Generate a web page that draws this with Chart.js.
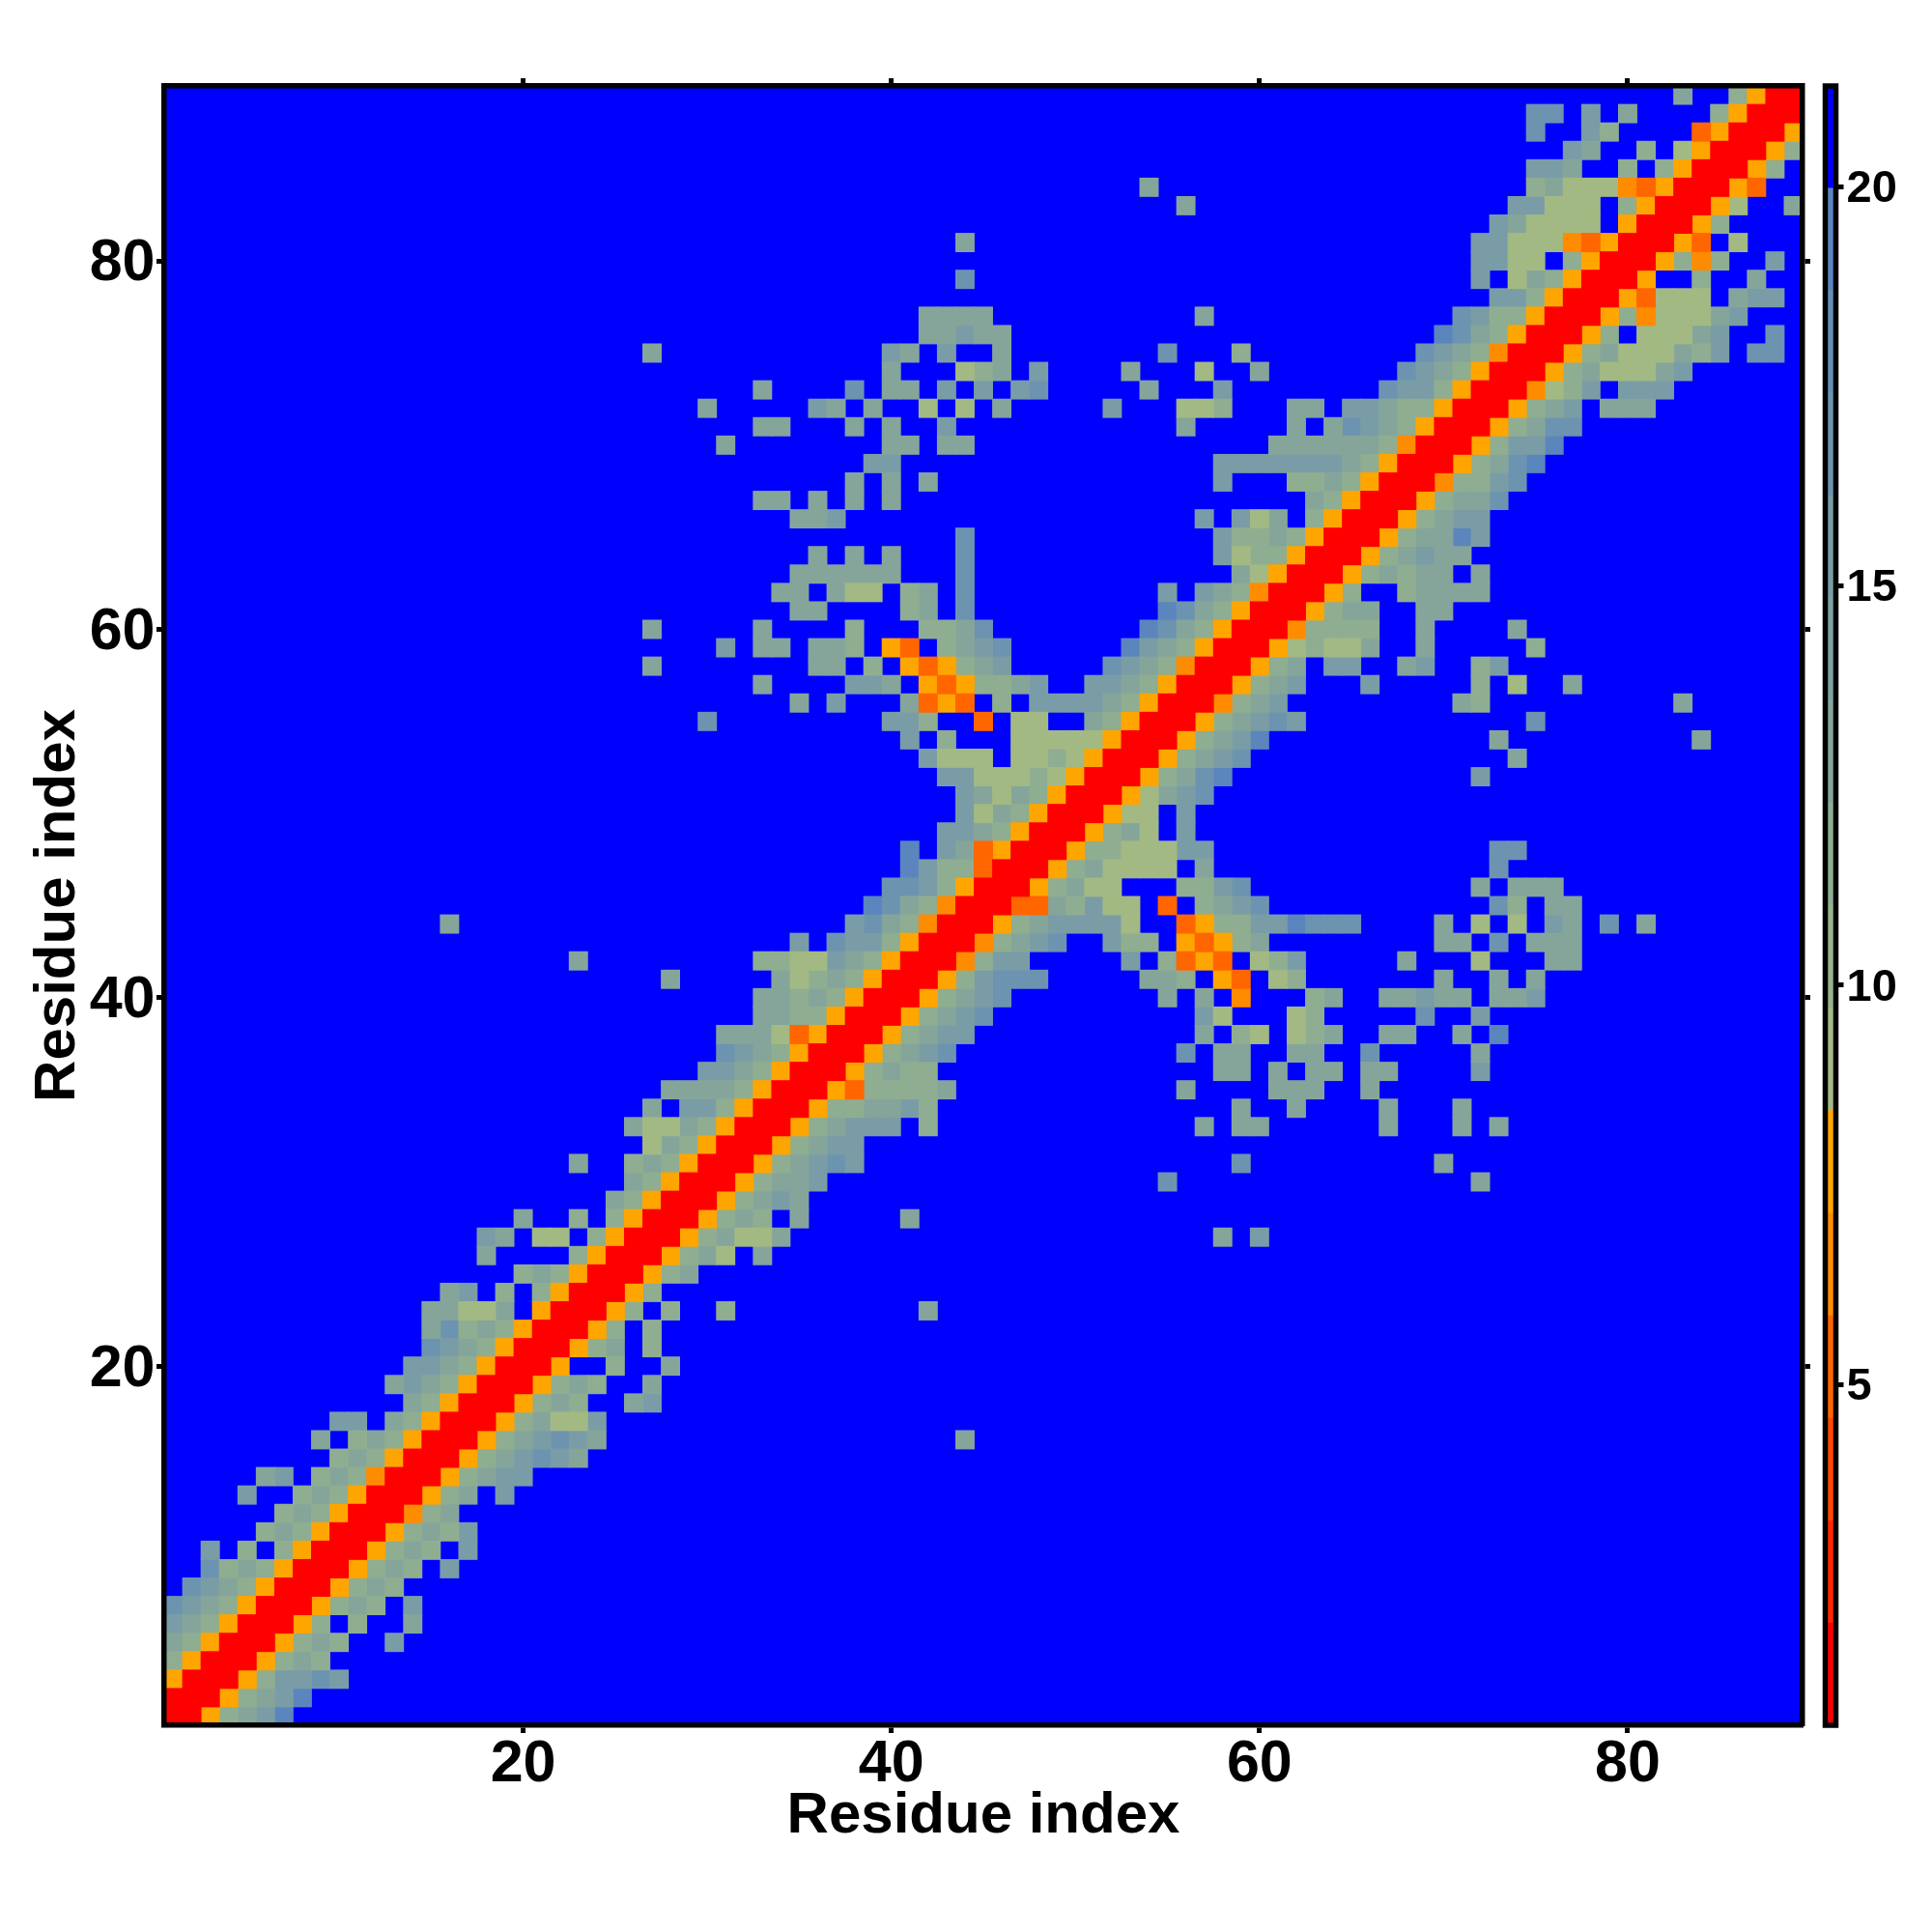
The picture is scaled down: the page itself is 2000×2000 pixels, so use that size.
<!DOCTYPE html>
<html>
<head>
<meta charset="utf-8">
<script src="https://cdn.jsdelivr.net/npm/chart.js@4"></script>
<style>
html,body{margin:0;padding:0;background:#fff;}
#wrap{position:relative;width:2000px;height:2000px;}
canvas{position:absolute;left:0;top:0;}
</style>
</head>
<body>
<div id="wrap"><canvas id="map" width="2000" height="2000"></canvas><canvas id="bar" width="2000" height="2000"></canvas></div>
<script>
const axisTitle = "Residue index";
const residueTicks = [20, 40, 60, 80];
const colorbarTicks = [5, 10, 15, 20];
const residueCount = 89;

// Colour-key levels.
const levelBreaks = [0.73, 2.01, 3.29, 4.58, 5.86, 7.14, 8.43, 9.71, 11.0, 12.28, 13.56, 14.84, 16.13, 17.41, 18.7, 19.98, 21.26];
const levelColors = ["#FF0000", "#FF2800", "#FF4800", "#FF6600", "#FF8C00", "#FFA500", "#A2B983", "#98B38A", "#8FAD91", "#85A59B", "#7FA1A1", "#7A9CA6", "#6C94B0", "#6490B6", "#5B85BD", "#0000FF"];

// Distance read for each letter used in the rows below.
const codeValues = { r: 1.4, e: 5.2, d: 6.5, o: 7.8, a: 9.1, b: 11.6, c: 12.9, f: 15.5, h: 16.8, k: 19.3 };
const noContactValue = 20.6;

// Non-background cells, row by row: "startColumn:letters".
const rowCells = {
89:"83:c 86:borr",
88:"75:hh 78:f 80:c 85:borrr",
87:"75:h 78:fb 84:eorrro",
86:"77:fc 81:b 83:aorrrob",
85:"75:ffc 80:b 82:borrrob",
84:"54:c 75:bcaaadeorrroe",
83:"56:c 74:ffaaa 80:borrroa 89:c",
82:"73:fcaaaa 80:orrrob",
81:"44:c 72:ffaaadeorrroe 86:a",
80:"72:ffaa 77:borrrobdb 88:f",
79:"44:h 72:f 74:acborrro 84:b 87:c",
78:"73:ffborrroeaaa 86:cff",
77:"42:cccc 57:c 71:hfbborrrobdaaacf",
76:"42:ccfcc 70:khcborrrob 81:aaacf 88:h",
75:"27:c 40:fc 43:f 46:c 55:h 59:b 69:hfcbdrrrobcaaacbf 87:hh",
74:"40:c 44:abc 48:f 53:c 57:a 60:c 68:hfcborrrobcaaacf",
73:"33:c 38:h 40:cc 43:f 45:f 47:fh 54:c 58:f 67:hffborrrdabf 80:fff",
72:"30:c 36:fc 39:c 42:a 44:a 46:c 52:f 56:aab 62:cc 65:ffcbborrrobcf 79:ccc",
71:"33:cc 38:c 40:c 43:f 56:c 62:c 64:chfcborrrobchh",
70:"31:c 40:cc 43:cc 61:ccccccbdrrrobffk",
69:"39:ff 58:fffffffcborrrobchk",
68:"38:c 40:c 42:c 58:f 62:bbcborrrdbbfh",
67:"33:cc 36:c 38:c 40:c 63:cborrrobcch",
66:"35:ccf 57:f 59:fac 63:borrrobcff",
65:"44:h 58:fbbcborrrobcckf",
64:"36:c 38:c 40:c 44:h 58:fabborrrobcfcc",
63:"35:cccccc 44:h 59:caorrrobcbcc 72:c",
62:"34:cc 37:caa 41:bc 44:h 55:f 57:fcbdrrrob 68:bcccc",
61:"35:cc 41:bc 44:h 55:khcborrrobcc 69:cc",
60:"27:c 33:c 38:b 42:bbch 54:khcborrrdbbbb 69:c 74:c",
59:"31:f 33:cc 36:ccb 40:oe 43:bcfh 53:kfcborrroabaac 69:c 75:b",
58:"27:c 36:cc 39:b 41:oeobcf 52:hfcbdrrrobc 64:ff 68:cf 72:bf",
57:"33:c 38:ffc 42:oeobbcf 51:ffcborrrobcf 66:f 72:b 74:a 77:c",
56:"35:c 37:f 41:ceoe 46:b 48:ffffcborrrdbcf 71:cb 83:c",
55:"30:h 40:ffb 45:e 47:aa 51:cborrrobcfhf 75:h",
54:"41:f 43:b 47:aaaaaorrrobcfk 73:c 84:c",
53:"42:faaa 47:aabaorrrobcfh 74:c",
52:"43:ffaaabaorrrobchk 72:f",
51:"44:fcacborrroacfh",
50:"44:facborrroaa 56:f",
49:"43:ffcborrrobca 56:f",
48:"41:k 43:fceorrrobbaaaff 73:hh",
47:"41:kfbberrrobcaaaa 57:c 73:h",
46:"40:hhfborrrobcaa 56:bbfh 72:c 74:ccc",
45:"39:khcbdrrreecbfaa 55:e 57:bcfh 73:hb 76:cc",
44:"16:c 38:fhcbdrrrobcffffa 56:eobbffkhhh 70:c 72:a 74:a 76:fc 79:h 81:c",
43:"35:f 37:hffborrrdbcfh 52:fbb 56:oeobc 70:cc 73:h 75:ccc",
42:"23:c 33:bbaafcborrrdbff 53:f 55:beoe 60:abf 68:c 72:a 76:cc",
41:"28:c 34:cabcborrrobfhhh 54:ccb 58:oe 61:ab 70:c 73:c 75:c",
40:"33:ccbcborrrobcfh 55:c 57:c 59:d 63:bc 67:ccfcc 73:ccf",
39:"33:ccbborrrobcfh 57:fa 62:ab 69:h 72:f",
38:"31:cccaeorrrobcff 57:c 59:ba 62:abc 67:cc 71:c 73:k",
37:"31:hfcborrrobcfh 56:h 58:cc 62:cc 66:h 72:c",
36:"30:ffcborrrobcbb 58:cc 61:c 63:cc 66:cc 72:f",
35:"28:ccccborrroebbbbc 56:c 61:ccc 66:c",
34:"27:c 29:ffborrrobbccfb 59:c 62:c 67:c 71:c",
33:"26:caacborrrobcfff 42:b 57:c 59:cc 67:c 71:c 73:c",
32:"27:acborrrobcff",
31:"23:c 26:bcborrrobcfhf 59:h 70:c",
30:"26:cborrrobccf 55:h 72:c",
29:"25:cborrrobcfc",
28:"20:c 23:b 25:borrrobcb 35:c 41:c",
27:"18:fc 21:aa 24:borrrobcaac 58:c 60:f",
26:"18:c 23:borrrobca 33:c",
25:"20:bcborrrobc",
24:"16:cf 19:b 21:borrrob",
23:"15:ccaac 21:orrrob 28:b 31:b 42:c",
22:"15:chbcborrrob 27:b",
21:"15:hfcborrrobc 27:b",
20:"14:ffcborrro 25:b 28:c",
19:"13:cfcborrrobcb 27:c",
18:"14:cborrrobcb 26:cf",
17:"10:ff 13:cborrrobcaaf",
16:"9:c 11:bcborrrobcfhfc 44:c",
15:"10:bcborrrobcfhfc",
14:"6:cf 9:bcbdrrrobcff",
13:"5:f 8:bcborrrobc 19:f",
12:"7:bcborrrdbc",
11:"6:bcborrrobcbf",
10:"3:f 5:b 7:borrrobcb 17:f",
9:"3:hbcborrrobcb 16:f",
8:"2:hfcborrrobcb",
7:"1:hfcborrrobcb 14:f",
6:"1:fcborrrob 11:b 14:c",
5:"1:cborrrobcb 13:f",
4:"1:borrrobcb",
3:"1:orrrobffhf",
2:"1:rrrobcfk",
1:"1:rrobcfk"
};

// ---- expand the table into chart points ----
function colorFor(v){
  for (let i = 0; i < levelColors.length; i++) if (v < levelBreaks[i + 1]) return levelColors[i];
  return levelColors[levelColors.length - 1];
}
const valueAt = {};
Object.keys(rowCells).forEach(row => {
  rowCells[row].split(" ").forEach(run => {
    const [start, letters] = run.split(":");
    [...letters].forEach((ch, k) => { valueAt[row + "," + (Number(start) + k)] = codeValues[ch]; });
  });
});
const points = [];
for (let y = 1; y <= residueCount; y++) {
  for (let x = 1; x <= residueCount; x++) {
    const v = valueAt[y + "," + x];
    points.push({ x, y, v: v === undefined ? noContactValue : v });
  }
}
points.sort((p, q) => q.v - p.v);

const FONT = "'Liberation Sans', Arial, sans-serif";
const INK = "#000000";
const fixTicks = values => axis => { axis.ticks = values.map(v => ({ value: v })); };

function frameAxis(position, size, extra){
  return Object.assign({
    type: "linear",
    position,
    min: 0.5,
    max: residueCount + 0.5,
    afterBuildTicks: fixTicks(residueTicks),
    afterFit: s => { if (s.isHorizontal()) s.height = size; else s.width = size; },
    border: { display: true, color: INK, width: 5.5, z: 1 },
    grid: { display: true, drawOnChartArea: false, drawTicks: true, tickLength: 8, tickWidth: 5, tickColor: INK, z: 1 },
    ticks: { display: false }
  }, extra || {});
}
const labelTicks = (pad, shift) => ({ display: true, padding: pad, labelOffset: shift, autoSkip: false, maxRotation: 0, color: INK, font: { family: FONT, size: 61, weight: "bold" } });
const titleOf = padding => ({ display: true, text: axisTitle, color: INK, padding, font: { family: FONT, size: 60, weight: "bold" } });

const plotBackground = {
  id: "plotBackground",
  beforeDatasetsDraw(chart){
    const a = chart.chartArea, c = chart.ctx;
    c.save(); c.fillStyle = levelColors[levelColors.length - 1];
    c.fillRect(a.left, a.top, a.right - a.left, a.bottom - a.top);
    c.restore();
  }
};

new Chart(document.getElementById("map"), {
  type: "scatter",
  data: { datasets: [{
    label: "Distance",
    data: points,
    pointStyle: "rect",
    pointRadius: 14.1,
    pointHoverRadius: 14.1,
    borderWidth: 0,
    pointBorderWidth: 0,
    pointBackgroundColor: points.map(p => colorFor(p.v))
  }]},
  plugins: [plotBackground],
  options: {
    responsive: false, animation: false, events: [],
    layout: { padding: 0 },
    plugins: { legend: { display: false }, tooltip: { enabled: false } },
    scales: {
      x: frameAxis("bottom", 214, { ticks: labelTicks(-3, 0), title: titleOf({ top: 0, bottom: 84 }) }),
      y: frameAxis("left", 170, { ticks: labelTicks(1.5, 3.5), title: titleOf({ top: 24, bottom: 0 }) }),
      xTop: frameAxis("top", 89),
      yRight: frameAxis("right", 134)
    }
  }
});

const framePlugin = {
  id: "frame",
  afterDatasetsDraw(chart){
    const a = chart.chartArea, c = chart.ctx;
    c.save(); c.strokeStyle = INK; c.lineWidth = 5.5;
    c.strokeRect(a.left, a.top, a.right - a.left, a.bottom - a.top);
    c.restore();
  }
};
new Chart(document.getElementById("bar"), {
  type: "bar",
  data: {
    labels: ["key"],
    datasets: levelColors.map((col, i) => ({
      label: "L" + (i + 1),
      data: [[levelBreaks[i], levelBreaks[i + 1]]],
      backgroundColor: col,
      borderWidth: 0,
      barPercentage: 1,
      categoryPercentage: 1
    }))
  },
  plugins: [framePlugin],
  options: {
    responsive: false, animation: false, events: [],
    layout: { padding: { left: 1889.5, top: 89, bottom: 214 } },
    plugins: { legend: { display: false }, tooltip: { enabled: false } },
    scales: {
      x: { stacked: true, display: false },
      y: {
        type: "linear", position: "right", stacked: false,
        min: levelBreaks[0], max: levelBreaks[levelBreaks.length - 1],
        afterBuildTicks: fixTicks(colorbarTicks),
        afterFit: s => { s.width = 2000 - 1889.5 - 11; },
        border: { display: false },
        grid: { display: true, drawOnChartArea: false, drawTicks: true, tickLength: 8, tickWidth: 5, tickColor: INK, z: 1 },
        ticks: { padding: 3, labelOffset: 3, autoSkip: false, maxRotation: 0, color: INK, font: { family: FONT, size: 47, weight: "bold" } }
      }
    }
  }
});
</script>
</body>
</html>
